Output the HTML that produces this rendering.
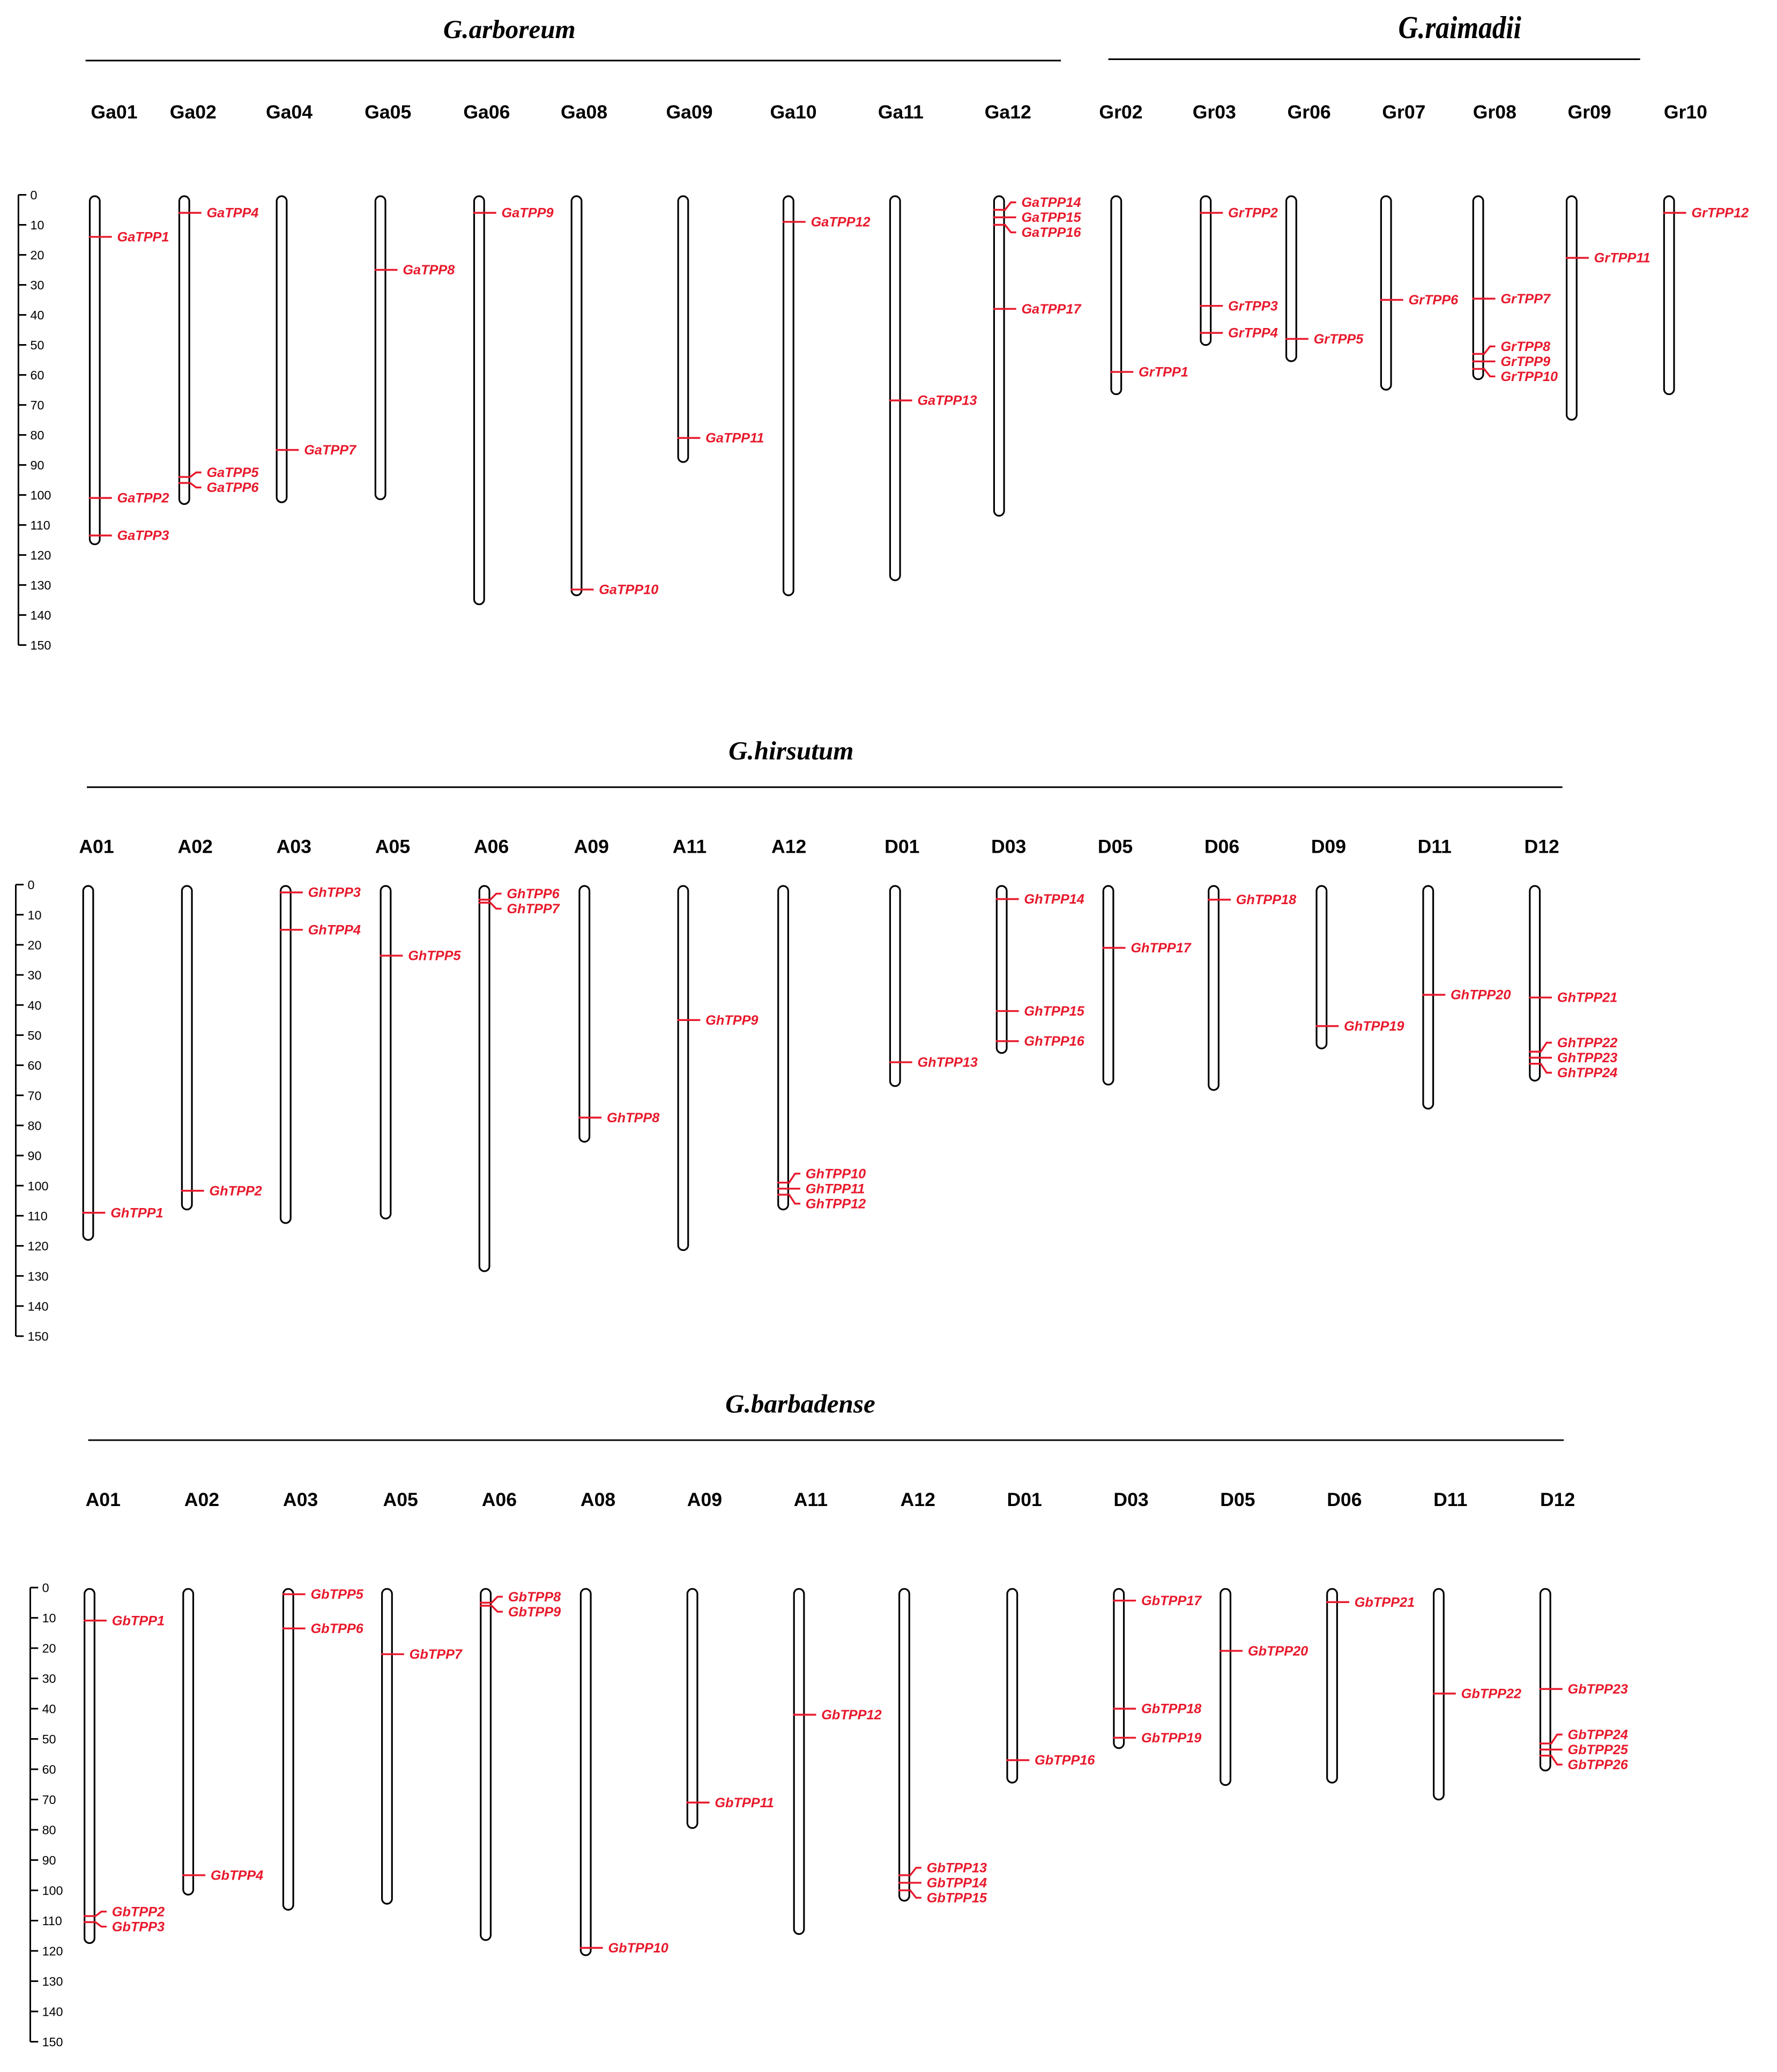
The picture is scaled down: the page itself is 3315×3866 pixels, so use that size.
<!DOCTYPE html>
<html><head><meta charset="utf-8"><style>
html,body{margin:0;padding:0;background:#fff}
svg{display:block}
</style></head><body>
<svg id="chart" width="3315" height="3866" viewBox="0 0 1350 1574" preserveAspectRatio="none" xmlns="http://www.w3.org/2000/svg"></svg>
<script>
// ---- Section: G.arboreum + G.raimadii ----
const topChroms = ["Ga01","Ga02","Ga04","Ga05","Ga06","Ga08","Ga09","Ga10","Ga11","Ga12","Gr02","Gr03","Gr06","Gr07","Gr08","Gr09","Gr10"];
const topLengths = [116,102.6,102,101,136,133,88.6,133,128,106.5,66,49.6,55,64.5,61,74.5,66];
const topGeneNames = ["GaTPP1","GaTPP2","GaTPP3","GaTPP4","GaTPP5","GaTPP6","GaTPP7","GaTPP8","GaTPP9","GaTPP10","GaTPP11","GaTPP12","GaTPP13","GaTPP14","GaTPP15","GaTPP16","GaTPP17","GrTPP1","GrTPP2","GrTPP3","GrTPP4","GrTPP5","GrTPP6","GrTPP7","GrTPP8","GrTPP9","GrTPP10","GrTPP11","GrTPP12"];
const topGeneChrom = ["Ga01","Ga01","Ga01","Ga02","Ga02","Ga02","Ga04","Ga05","Ga06","Ga08","Ga09","Ga10","Ga11","Ga12","Ga12","Ga12","Ga12","Gr02","Gr03","Gr03","Gr03","Gr06","Gr07","Gr08","Gr08","Gr08","Gr08","Gr09","Gr10"];
const topGenePos = [14,101,113.5,6,94,96,85,25,6,131.5,81,9,68.5,5,7.5,10,38,59,6,37,46,48,35,34.6,53,55.5,58,21,6];
// ---- Section: G.hirsutum ----
const hirChroms = ["A01","A02","A03","A05","A06","A09","A11","A12","D01","D03","D05","D06","D09","D11","D12"];
const hirLengths = [117.6,107.5,112,110.5,128,85,121,107.5,66.5,55.5,66,67.8,54,74,64.7];
const hirGeneNames = ["GhTPP1","GhTPP2","GhTPP3","GhTPP4","GhTPP5","GhTPP6","GhTPP7","GhTPP8","GhTPP9","GhTPP10","GhTPP11","GhTPP12","GhTPP13","GhTPP14","GhTPP15","GhTPP16","GhTPP17","GhTPP18","GhTPP19","GhTPP20","GhTPP21","GhTPP22","GhTPP23","GhTPP24"];
const hirGeneChrom = ["A01","A02","A03","A03","A05","A06","A06","A09","A11","A12","A12","A12","D01","D03","D03","D03","D05","D06","D09","D11","D12","D12","D12","D12"];
const hirGenePos = [109,101.7,2.6,15,23.6,5,6,77.4,45,99,101,103,59,4.8,42,52,21,5,47,36.6,37.5,55.5,57.5,59.5];
// ---- Section: G.barbadense ----
const barChroms = ["A01","A02","A03","A05","A06","A08","A09","A11","A12","D01","D03","D05","D06","D11","D12"];
const barLengths = [117,101,106,104,116,121,79,114,103,64,52.6,64.8,64,69.6,60];
const barGeneNames = ["GbTPP1","GbTPP2","GbTPP3","GbTPP4","GbTPP5","GbTPP6","GbTPP7","GbTPP8","GbTPP9","GbTPP10","GbTPP11","GbTPP12","GbTPP13","GbTPP14","GbTPP15","GbTPP16","GbTPP17","GbTPP18","GbTPP19","GbTPP20","GbTPP21","GbTPP22","GbTPP23","GbTPP24","GbTPP25","GbTPP26"];
const barGeneChrom = ["A01","A01","A01","A02","A03","A03","A05","A06","A06","A08","A09","A11","A12","A12","A12","D01","D03","D03","D03","D05","D06","D11","D12","D12","D12","D12"];
const barGenePos = [10.9,108.5,110.5,95,2.2,13.5,22,5,6,119,71,42,95,97.5,100,57,4.3,40,49.6,20.9,4.8,35,33.5,51.5,53.5,55.5];
const axisTicks = [0,10,20,30,40,50,60,70,80,90,100,110,120,130,140,150];

// layout (not data)
const sections = [
  {key:"top", chroms:topChroms, lengths:topLengths, gn:topGeneNames, gc:topGeneChrom, gp:topGenePos,
   xs:[72,140,214,289,364,438,519,599,680,759,848,916,981,1053,1123,1194,1268],
   lx:[69,129,202,277,352,426,506,585,667,748,835,906,978,1050,1119,1191,1264],
   y0:148, y150:490, axisX:14, labelY:90,
   titles:[{t:"G.arboreum",x:387,y:29,l1:65,l2:806,ly:46,cond:false},{t:"G.raimadii",x:1109,y:29,l1:842,l2:1246,ly:45,cond:true}]},
  {key:"hir", chroms:hirChroms, lengths:hirLengths, gn:hirGeneNames, gc:hirGeneChrom, gp:hirGenePos,
   xs:[67,142,217,293,368,444,519,595,680,761,842,922,1004,1085,1166],
   lx:[60,135,210,285,360,436,511,586,672,753,834,915,996,1077,1158],
   y0:672, y150:1015, axisX:12, labelY:648,
   titles:[{t:"G.hirsutum",x:601,y:577,l1:66,l2:1187,ly:598}]},
  {key:"bar", chroms:barChroms, lengths:barLengths, gn:barGeneNames, gc:barGeneChrom, gp:barGenePos,
   xs:[68,143,219,294,369,445,526,607,687,769,850,931,1012,1093,1174],
   lx:[65,140,215,291,366,441,522,603,684,765,846,927,1008,1089,1170],
   y0:1206, y150:1551, axisX:23, labelY:1144,
   titles:[{t:"G.barbadense",x:608,y:1073,l1:67,l2:1188,ly:1094}]}
];
const NS="http://www.w3.org/2000/svg";
const svg=document.getElementById('chart');
function mk(tag,attrs,parent){const e=document.createElementNS(NS,tag);for(const k in attrs)e.setAttribute(k,attrs[k]);(parent||svg).appendChild(e);return e;}
const RED="#e8192c";
sections.forEach(s=>{
  const g=mk('g',{});
  
  
  const yS=v=>s.y0+(s.y150-s.y0)*v/150;
  s.titles.forEach(t=>{
    const tx=mk('text',{x:t.x,y:t.y,'text-anchor':'middle','font-family':'"Liberation Serif",serif','font-weight':'bold','font-style':'italic','font-size':t.cond?22:20,fill:'#000'},g);
    if(t.cond){tx.setAttribute('transform','translate('+t.x+' '+t.y+') scale(0.95 1.1) translate('+(-t.x)+' '+(-t.y)+')');}
    tx.textContent=t.t;
    
    
    const ln=mk('line',{x1:t.l1,x2:t.l2,y1:t.ly,y2:t.ly,stroke:'#000','stroke-width':1.2},g);
    
    
  });
  const ax=mk('g',{},g);
  
  
  mk('line',{x1:s.axisX,x2:s.axisX,y1:yS(0),y2:yS(150),stroke:'#000','stroke-width':1.2},ax);
  axisTicks.forEach(v=>{
    mk('line',{x1:s.axisX,x2:s.axisX+6,y1:yS(v),y2:yS(v),stroke:'#000','stroke-width':1.2},ax);
    const tl=mk('text',{x:s.axisX+9,y:yS(v)+3.5,'font-family':'"Liberation Sans",sans-serif','font-size':9.5,fill:'#000'},ax);
    tl.textContent=v;
    
    
  });
  s.chroms.forEach((c,i)=>{
    const cx=s.xs[i];
    const lab=mk('text',{x:s.lx[i],y:s.labelY,'font-family':'"Liberation Sans",sans-serif','font-weight':'bold','font-size':14.5,fill:'#000'},g);
    lab.textContent=c;
    
    
    const r=mk('rect',{x:cx-3.8,y:yS(0)+1,width:7.6,height:yS(s.lengths[i])-yS(0),rx:3.8,ry:3.8,fill:'#fff',stroke:'#000','stroke-width':1.3},g);
    
    
  });
  s.chroms.forEach((c,i)=>{
    const cx=s.xs[i];
    const idx=[];s.gn.forEach((n,j)=>{if(s.gc[j]===c)idx.push(j);});
    idx.sort((a,b)=>s.gp[a]-s.gp[b]);
    const my=idx.map(j=>yS(s.gp[j]));
    const gap=11.4; const ly=my.slice();
    let k=0;
    while(k<my.length){let e=k;while(e+1<my.length&&my[e+1]-my[e]<gap)e++;
      if(e>k){const mean=my.slice(k,e+1).reduce((a,b)=>a+b,0)/(e-k+1);
        for(let q=k;q<=e;q++)ly[q]=mean+(q-k-(e-k)/2)*gap;}
      k=e+1;}
    idx.forEach((j,q)=>{
      const gg=mk('g',{},g);
      
      
      if(Math.abs(ly[q]-my[q])<0.5){
        mk('line',{x1:cx-4.5,x2:cx+13,y1:my[q],y2:my[q],stroke:RED,'stroke-width':1.4},gg);
      } else {
        mk('polyline',{points:(cx-4.5)+','+my[q]+' '+(cx+4.5)+','+my[q]+' '+(cx+9)+','+ly[q]+' '+(cx+13)+','+ly[q],fill:'none',stroke:RED,'stroke-width':1.4},gg);
      }
      const t=mk('text',{x:cx+17,y:ly[q]+3.5,'font-family':'"Liberation Sans",sans-serif','font-weight':'bold','font-style':'italic','font-size':10.3,fill:RED},gg);
      t.textContent=s.gn[j];
      
      
    });
  });
});
</script>
</body></html>
